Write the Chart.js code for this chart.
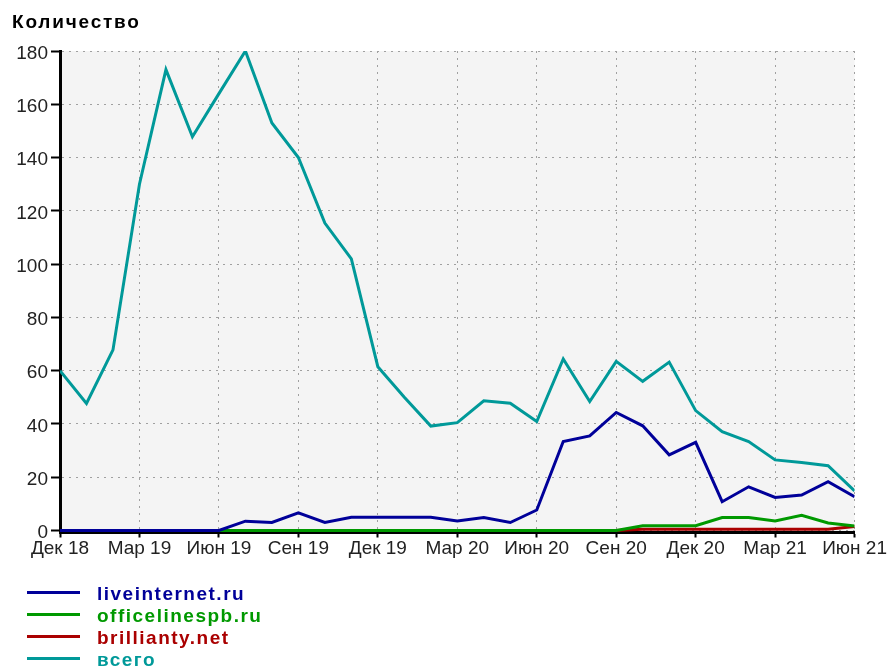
<!DOCTYPE html>
<html>
<head>
<meta charset="utf-8">
<title>Количество</title>
<script src="https://cdn.jsdelivr.net/npm/chart.js@4.4.0/dist/chart.umd.min.js"></script>
<style>
  body { margin: 0; background: #fff; }
  #wrap { position: relative; width: 887px; height: 668px; overflow: hidden; }
  #title {
    position: absolute; left: 12px; top: 12px;
    font: bold 19px "Liberation Sans", Arial, sans-serif;
    letter-spacing: 1.8px; line-height: 19px; color: #000;
  }
  #legend { position: absolute; left: 0; top: 583px; width: 400px; }
  .row { position: relative; height: 22px; }
  .row .swatch { position: absolute; left: 27px; top: 8px; width: 53px; height: 3px; }
  .row .txt {
    position: absolute; left: 97px; top: 0;
    font: bold 19px "Liberation Sans", Arial, sans-serif;
    letter-spacing: 1.5px; line-height: 22px; white-space: nowrap;
  }
</style>
</head>
<body>
<div id="wrap">
  <canvas id="chart" width="887" height="668"></canvas>
  <div id="title">Количество</div>
  <div id="legend"></div>
</div>
<script>
// Months on the x axis (Dec 18 .. Jun 21)
const months = [
  'Дек 18', 'Янв 19', 'Фев 19', 'Мар 19', 'Апр 19', 'Май 19', 'Июн 19', 'Июл 19',
  'Авг 19', 'Сен 19', 'Окт 19', 'Ноя 19', 'Дек 19', 'Янв 20', 'Фев 20', 'Мар 20',
  'Апр 20', 'Май 20', 'Июн 20', 'Июл 20', 'Авг 20', 'Сен 20', 'Окт 20', 'Ноя 20',
  'Дек 20', 'Янв 21', 'Фев 21', 'Мар 21', 'Апр 21', 'Май 21', 'Июн 21'
];

// Series values
const liveinternet = [
  0, 0, 0, 0, 0, 0, 0, 3.5, 3, 6.6, 3, 5, 5, 5, 5, 3.6,
  4.9, 3, 7.7, 33.4, 35.5, 44.3, 39.3, 28.4, 33.1, 10.8, 16.4, 12.4, 13.3, 18.3, 12.7
];
const officelinespb = [
  0, 0, 0, 0, 0, 0, 0, 0, 0, 0, 0, 0, 0, 0, 0, 0,
  0, 0, 0, 0, 0, 0, 1.8, 1.8, 1.8, 4.9, 4.9, 3.6, 5.7, 2.8, 1.7
];
const brillianty = [
  0, 0, 0, 0, 0, 0, 0, 0, 0, 0, 0, 0, 0, 0, 0, 0,
  0, 0, 0, 0, 0, 0, 0.5, 0.5, 0.5, 0.5, 0.5, 0.5, 0.5, 0.5, 1.5
];
const total = [
  60, 47.7, 67.8, 130, 173, 147.8, 164, 180, 153, 140, 115.4, 102, 61.5, 50, 39.2, 40.5,
  48.7, 47.8, 40.9, 64.4, 48.4, 63.5, 56, 63.2, 45, 37.1, 33.4, 26.5, 25.5, 24.3, 14.9
];

const seriesNames = ['liveinternet.ru', 'officelinespb.ru', 'brillianty.net', 'всего'];
const seriesData = [liveinternet, officelinespb, brillianty, total];
const seriesColors = ['#000099', '#009900', '#aa0000', '#009999'];

const FONT = '"Liberation Sans", Arial, sans-serif';

// grey plot area behind the lines
const plotBg = {
  id: 'plotBg',
  beforeDraw(chart) {
    const { ctx, chartArea: a } = chart;
    ctx.save();
    ctx.fillStyle = '#f4f4f4';
    ctx.fillRect(a.left, a.top, a.right - a.left, a.bottom - a.top);
    ctx.restore();
  }
};

const datasets = seriesNames.map((name, k) => ({
  label: name,
  data: seriesData[k].map((v, i) => ({ x: i, y: v })),
  borderColor: seriesColors[k],
  backgroundColor: seriesColors[k],
  borderWidth: 3,
  pointRadius: 0,
  tension: 0
}));

new Chart(document.getElementById('chart').getContext('2d'), {
  type: 'line',
  data: { datasets },
  options: {
    responsive: false,
    animation: false,
    devicePixelRatio: 1,
    layout: { padding: { top: 51, right: 30, bottom: 105.5, left: 0 } },
    plugins: {
      legend: { display: false },
      tooltip: { enabled: false }
    },
    scales: {
      x: {
        type: 'linear',
        min: 0,
        max: 30,
        ticks: {
          stepSize: 3,
          autoSkip: false,
          maxRotation: 0,
          padding: 0,
          color: '#222',
          font: { family: FONT, size: 19 },
          callback: v => months[v]
        },
        grid: {
          color: '#a0a0a0',
          lineWidth: 1,
          tickLength: 5,
          tickColor: '#000',
          tickWidth: 2,
          tickBorderDash: [20, 0]
        },
        border: { color: '#000', width: 3, dash: [2, 5] },
        afterFit: s => { s.height = 30; }
      },
      y: {
        min: -0.75,
        max: 180,
        ticks: {
          stepSize: 20,
          includeBounds: false,
          padding: 3,
          labelOffset: 2.5,
          color: '#222',
          font: { family: FONT, size: 19 }
        },
        grid: {
          color: '#a0a0a0',
          lineWidth: 1,
          tickLength: 9,
          tickColor: '#000',
          tickWidth: 2,
          tickBorderDash: [20, 0]
        },
        border: { color: '#000', width: 3, dash: [2, 5] },
        afterFit: s => { s.width = 60; }
      }
    }
  },
  plugins: [plotBg]
});

// legend under the chart, one entry per line
const legend = document.getElementById('legend');
seriesNames.forEach((name, k) => {
  const row = document.createElement('div');
  row.className = 'row';
  const sw = document.createElement('div');
  sw.className = 'swatch';
  sw.style.background = seriesColors[k];
  const txt = document.createElement('div');
  txt.className = 'txt';
  txt.style.color = seriesColors[k];
  txt.textContent = name;
  row.appendChild(sw);
  row.appendChild(txt);
  legend.appendChild(row);
});
</script>
</body>
</html>
